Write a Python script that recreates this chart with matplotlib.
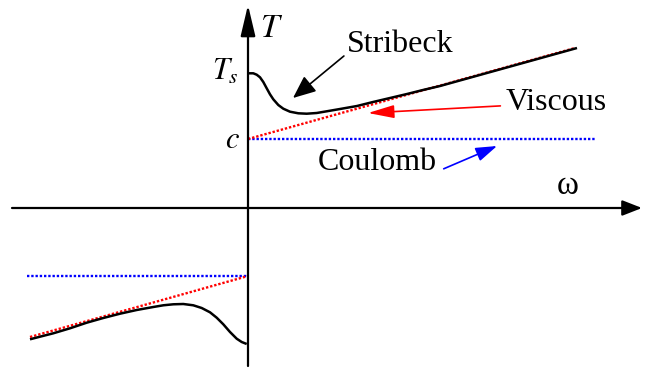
import matplotlib.pyplot as plt

plt.rcParams['font.family'] = ['Liberation Serif', 'DejaVu Serif']
plt.rcParams['mathtext.fontset'] = 'stix'

# --- Dados (omega, T) ---
w_pos = [0.3, 5.3, 8.7, 12, 15.3, 18.7, 22, 25.3, 30.3, 35.3, 42, 50.3, 58.7,
         68.7, 78.7, 92, 109, 125, 142, 159, 175, 192, 329]
T_pos = [134.7, 134.7, 133.3, 130.7, 126, 119.7, 113.7, 108.7, 103, 99.3,
         96.3, 94.7, 94.3, 95, 96.7, 99, 102, 106, 110, 114, 118, 122, 160]

w_neg = [-218, -208, -194.7, -178, -161.3, -144.7, -128, -111.3, -94.7, -84.7,
         -74.7, -64.7, -54.7, -46.3, -38, -31.3, -24.7, -18, -11.3, -6.3, -1.3]
T_neg = [-131.3, -128.7, -125.3, -120.3, -114.7, -110, -105.7, -102, -99,
         -97.3, -96.3, -96, -97.3, -100, -104.3, -109.7, -116.3, -124, -130.7,
         -134, -136]

visc_w_pos = [0, 327]
visc_T_pos = [69, 160]
visc_w_neg = [-218, 0]
visc_T_neg = [-129, -68]

coul_w_pos = [0, 347]
coul_T_pos = [69, 69]
coul_w_neg = [-221, 0]
coul_T_neg = [-68, -68]

fig = plt.figure(figsize=(6.45, 3.69), dpi=100)
ax = fig.add_axes([0, 0, 1, 1])
ax.set_xlim(-248, 397)
ax.set_ylim(-161, 208)
ax.axis('off')


def seta(cor, hl, hw, lw=1.2, relpos=(0.5, 0.5)):
    return dict(arrowstyle=f'-|>,head_length={hl},head_width={hw}',
                color=cor, lw=lw, shrinkA=0, shrinkB=0, mutation_scale=1,
                relpos=relpos)


# eixos
ax.annotate('', xy=(394, 0), xytext=(-236, 0), arrowprops=seta('black', 12, 4.7, 1.6))
ax.annotate('', xy=(0, 203), xytext=(0, -158), arrowprops=seta('black', 19, 4.5, 1.6))

# curvas
pontos = (0, (1, 0.8))
ax.plot(coul_w_pos, coul_T_pos, color='blue', lw=1.7, ls=pontos)
ax.plot(coul_w_neg, coul_T_neg, color='blue', lw=1.7, ls=pontos)
ax.plot(visc_w_pos, visc_T_pos, color='red', lw=1.7, ls=pontos)
ax.plot(visc_w_neg, visc_T_neg, color='red', lw=1.7, ls=pontos)
ax.plot(w_pos, T_pos, color='black', lw=1.8, solid_capstyle='butt')
ax.plot(w_neg, T_neg, color='black', lw=1.8, solid_capstyle='butt')

# rótulos
fs = 23
ax.text(24, 179, '$T$', fontsize=24, ha='center', va='center')
ax.text(-23, 136, '$T_s$', fontsize=22, ha='center', va='center')
ax.text(-16, 68, '$c$', fontsize=22, ha='center', va='center')
ax.text(320, 22, 'ω', fontsize=24, ha='center', va='center')

ax.annotate('Stribeck', xy=(45, 110), xytext=(152, 163), fontsize=fs,
            ha='center', va='center', arrowprops=seta('black', 14, 6, relpos=(0, 0.2)))
ax.annotate('Viscous', xy=(120, 95), xytext=(308, 105), fontsize=fs,
            ha='center', va='center', arrowprops=seta('red', 16, 4, relpos=(-0.05, 0.4)))
ax.annotate('Coulomb', xy=(249, 62), xytext=(129, 45), fontsize=fs,
            ha='center', va='center', arrowprops=seta('blue', 13, 4.3, relpos=(1.06, 0.3)))

plt.savefig('out.png', dpi=100)
